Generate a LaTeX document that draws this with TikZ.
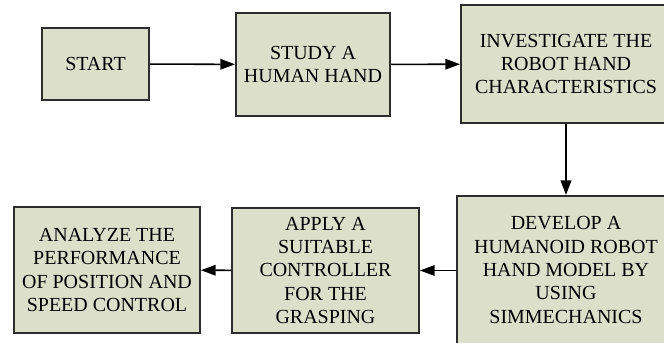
\documentclass[tikz,border=0pt]{standalone}
\usepackage{fontspec}
\setmainfont{Liberation Serif}
\usetikzlibrary{arrows.meta}
\definecolor{boxfill}{RGB}{220,224,203}
\definecolor{boxline}{RGB}{45,45,45}
\tikzset{
  box/.style={draw=boxline,fill=boxfill,line width=1.3pt,align=center,inner sep=0pt,
    font=\fontsize{14.2}{16.6}\selectfont},
  flow/.style={line width=1.1pt,-{Triangle[length=10.5pt,width=7.5pt]}}
}
\begin{document}
\begin{tikzpicture}[x=0.025cm,y=-0.025cm]
\useasboundingbox (0,0) rectangle (664,342);
\clip (0,0) rectangle (664,342);
\node[box,minimum width=2.675cm,minimum height=1.8cm] (start) at (95.5,64) {START};
\node[box,minimum width=3.85cm,minimum height=2.575cm] (study) at (313,64.5) {STUDY A\\HUMAN HAND};
\node[box,minimum width=5.25cm,minimum height=2.95cm] (investigate) at (566,64) {INVESTIGATE THE\\ROBOT HAND\\CHARACTERISTICS};
\node[box,minimum width=5.45cm,minimum height=3.7cm] (develop) at (566,270) {DEVELOP A\\HUMANOID ROBOT\\HAND MODEL BY\\USING\\SIMMECHANICS};
\node[box,minimum width=4.675cm,minimum height=3.125cm] (apply) at (325.5,270.5) {APPLY A\\SUITABLE\\CONTROLLER\\FOR THE\\GRASPING};
\node[box,minimum width=4.65cm,minimum height=3.15cm] (analyze) at (107,270) {ANALYZE THE\\PERFORMANCE\\OF POSITION AND\\SPEED CONTROL};
\draw[flow] (start) -- (study);
\draw[flow] (study) -- (investigate);
\draw[flow,line width=1.6pt] (investigate) -- (develop);
\draw[flow] (develop.west |- apply) -- (apply);
\draw[flow] (apply) -- (analyze);
\end{tikzpicture}
\end{document}
